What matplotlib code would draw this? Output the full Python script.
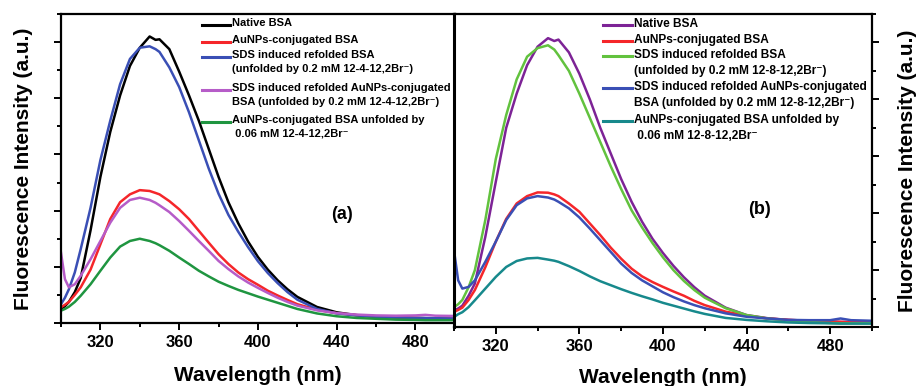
import numpy as np
import matplotlib
matplotlib.use("Agg")
import matplotlib.pyplot as plt
from matplotlib.ticker import MultipleLocator, NullFormatter

plt.rcParams['font.family'] = ['Liberation Sans', 'DejaVu Sans']
plt.rcParams['font.weight'] = 'bold'

# wavelength grid (nm), shared by both panels
wl = [300, 302, 304, 307, 310, 315, 320, 325, 330, 335, 340, 345, 348, 350,
      355, 360, 365, 370, 375, 380, 385, 390, 395, 400, 405, 410, 415, 420,
      430, 440, 450, 460, 470, 480, 485, 490, 500]

# panel (a): 12-4-12,2Br-
a_native = [0.05, 0.06, 0.075, 0.11, 0.16, 0.33, 0.52, 0.68, 0.81, 0.915, 0.98, 1.02, 1.008, 1.01,
            0.975, 0.895, 0.81, 0.72, 0.62, 0.52, 0.43, 0.355, 0.29, 0.235, 0.19, 0.152, 0.12, 0.093,
            0.057, 0.038, 0.028, 0.022, 0.02, 0.018, 0.017, 0.016, 0.015]
a_aunp = [0.056, 0.065, 0.075, 0.1, 0.127, 0.19, 0.28, 0.37, 0.43, 0.458, 0.473, 0.47, 0.463, 0.458,
          0.434, 0.405, 0.37, 0.328, 0.286, 0.245, 0.21, 0.18, 0.156, 0.136, 0.115, 0.098, 0.082, 0.067,
          0.047, 0.035, 0.028, 0.024, 0.021, 0.018, 0.017, 0.016, 0.015]
a_sds = [0.067, 0.09, 0.12, 0.18, 0.263, 0.41, 0.58, 0.72, 0.85, 0.94, 0.98, 0.985, 0.975, 0.965,
         0.91, 0.84, 0.75, 0.65, 0.55, 0.46, 0.385, 0.325, 0.27, 0.22, 0.178, 0.142, 0.11, 0.083,
         0.05, 0.034, 0.027, 0.022, 0.02, 0.018, 0.018, 0.017, 0.016]
a_sds_aunp = [0.25, 0.156, 0.127, 0.138, 0.168, 0.227, 0.292, 0.357, 0.41, 0.438, 0.446, 0.438, 0.428, 0.419,
              0.395, 0.363, 0.328, 0.292, 0.257, 0.221, 0.192, 0.166, 0.144, 0.125, 0.107, 0.09, 0.075, 0.062,
              0.045, 0.035, 0.03, 0.027, 0.026, 0.027, 0.029, 0.026, 0.025]
a_unfold = [0.044, 0.05, 0.058, 0.075, 0.097, 0.138, 0.186, 0.233, 0.272, 0.292, 0.30, 0.292, 0.284, 0.277,
            0.257, 0.233, 0.21, 0.186, 0.166, 0.147, 0.132, 0.118, 0.106, 0.094, 0.083, 0.072, 0.061, 0.05,
            0.034, 0.024, 0.018, 0.015, 0.012, 0.011, 0.01, 0.01, 0.01]

# panel (b): 12-8-12,2Br-
b_native = [0.059, 0.065, 0.075, 0.11, 0.153, 0.317, 0.51, 0.70, 0.82, 0.92, 0.985, 1.015, 1.005, 1.01,
            0.965, 0.89, 0.80, 0.70, 0.61, 0.52, 0.44, 0.37, 0.31, 0.26, 0.215, 0.175, 0.14, 0.11,
            0.068, 0.042, 0.031, 0.025, 0.022, 0.019, 0.018, 0.017, 0.016]
b_aunp = [0.053, 0.06, 0.068, 0.095, 0.13, 0.21, 0.30, 0.38, 0.434, 0.46, 0.473, 0.472, 0.466, 0.46,
          0.434, 0.405, 0.364, 0.323, 0.279, 0.24, 0.205, 0.178, 0.158, 0.141, 0.125, 0.11, 0.092, 0.077,
          0.054, 0.04, 0.03, 0.025, 0.022, 0.019, 0.018, 0.017, 0.016]
b_sds = [0.07, 0.08, 0.095, 0.14, 0.2, 0.376, 0.59, 0.745, 0.87, 0.95, 0.98, 0.99, 0.975, 0.955,
         0.90, 0.82, 0.735, 0.65, 0.565, 0.485, 0.41, 0.35, 0.295, 0.245, 0.2, 0.162, 0.13, 0.103,
         0.066, 0.042, 0.03, 0.023, 0.018, 0.014, 0.013, 0.013, 0.013]
b_sds_aunp = [0.27, 0.164, 0.135, 0.141, 0.164, 0.229, 0.30, 0.376, 0.428, 0.452, 0.46, 0.455, 0.448, 0.44,
              0.417, 0.385, 0.346, 0.305, 0.264, 0.223, 0.19, 0.164, 0.143, 0.122, 0.105, 0.09, 0.077, 0.066,
              0.048, 0.036, 0.03, 0.025, 0.024, 0.024, 0.03, 0.024, 0.022]
b_unfold = [0.035, 0.045, 0.052, 0.07, 0.094, 0.135, 0.176, 0.211, 0.232, 0.241, 0.243, 0.237, 0.233, 0.229,
            0.214, 0.197, 0.178, 0.161, 0.147, 0.133, 0.12, 0.108, 0.097, 0.085, 0.075, 0.065, 0.055, 0.046,
            0.032, 0.025, 0.02, 0.016, 0.014, 0.013, 0.012, 0.012, 0.012]

labels_a = ["Native BSA",
            "AuNPs-conjugated BSA",
            "SDS induced refolded BSA\n(unfolded by 0.2 mM 12-4-12,2Br\u207b)",
            "SDS induced refolded AuNPs-conjugated\nBSA (unfolded by 0.2 mM 12-4-12,2Br\u207b)",
            "AuNPs-conjugated BSA unfolded by\n 0.06 mM 12-4-12,2Br\u207b"]
labels_b = ["Native BSA",
            "AuNPs-conjugated BSA",
            "SDS induced refolded BSA\n(unfolded by 0.2 mM 12-8-12,2Br\u207b)",
            "SDS induced refolded AuNPs-conjugated\nBSA (unfolded by 0.2 mM 12-8-12,2Br\u207b)",
            "AuNPs-conjugated BSA unfolded by\n 0.06 mM 12-8-12,2Br\u207b"]

colors_a = ['#000000', '#f5262a', '#3a4fb5', '#b65cc8', '#1f9540']
colors_b = ['#7d2396', '#f5262a', '#62c23e', '#3a4fb5', '#17898c']


def style_axis(ax, side):
    ax.set_xlim(300, 500)
    ax.set_ylim(0, 1.1)
    ax.xaxis.set_minor_locator(MultipleLocator(20))
    ax.set_xticks([320, 360, 400, 440, 480])
    ax.yaxis.set_major_locator(MultipleLocator(0.2))
    ax.yaxis.set_minor_locator(MultipleLocator(0.1))
    ax.yaxis.set_major_formatter(NullFormatter())
    for sp in ax.spines.values():
        sp.set_linewidth(1.6)
    ax.tick_params(which='both', direction='out', width=1.4, labelsize=12)
    ax.tick_params(which='major', length=5)
    ax.tick_params(which='minor', length=3)
    if side == 'left':
        ax.tick_params(axis='y', which='both', left=True, right=False)
    else:
        ax.tick_params(axis='y', which='both', left=False, right=True)
    for t in ax.get_xticklabels():
        t.set_fontweight('bold')


def draw_legend(ax, labels, colors, x0, x1, rows, fs):
    # legend drawn by hand so the line sits beside the first text line
    for lab, col, y in zip(labels, colors, rows):
        ax.plot([x0, x1], [y, y], color=col, lw=2.2, transform=ax.transAxes, clip_on=False)
        ax.text(x1 + 0.004, y + 0.022, lab, transform=ax.transAxes, fontsize=fs,
                fontweight='bold', va='top', ha='left', linespacing=1.45)


fig = plt.figure(figsize=(9.16, 3.86), dpi=100)
ax1 = fig.add_axes([0.0666, 0.1632, 0.430, 0.8005])
ax2 = fig.add_axes([0.4956, 0.1528, 0.4563, 0.811])

for ys, c in zip([a_native, a_aunp, a_sds, a_sds_aunp, a_unfold], colors_a):
    ax1.plot(wl, ys, color=c, lw=1.8)
for ys, c in zip([b_native, b_aunp, b_sds, b_sds_aunp, b_unfold], colors_b):
    ax2.plot(wl, ys, color=c, lw=1.8)

style_axis(ax1, 'left')
style_axis(ax2, 'right')
ax2.spines['left'].set_linewidth(2.2)

ax1.set_xlabel('Wavelength (nm)', fontsize=15, fontweight='bold', labelpad=12)
ax2.set_xlabel('Wavelength (nm)', fontsize=15, fontweight='bold', labelpad=10)
ax1.set_ylabel('Fluorescence Intensity (a.u.)', fontsize=15, fontweight='bold', labelpad=12)
ax2.yaxis.set_label_position('right')
ax2.set_ylabel('Fluorescence Intensity (a.u.)', fontsize=15, fontweight='bold', labelpad=14)

draw_legend(ax1, labels_a, colors_a, 0.358, 0.429,
            [0.964, 0.909, 0.861, 0.754, 0.650], 8.0)
draw_legend(ax2, labels_b, colors_b, 0.356, 0.426,
            [0.965, 0.914, 0.866, 0.764, 0.658], 8.6)

ax1.text(0.713, 0.35, '(a)', transform=ax1.transAxes, fontsize=13, fontweight='bold',
         ha='center', va='center')
ax2.text(0.732, 0.374, '(b)', transform=ax2.transAxes, fontsize=13, fontweight='bold',
         ha='center', va='center')

fig.savefig('out.png', dpi=100)
